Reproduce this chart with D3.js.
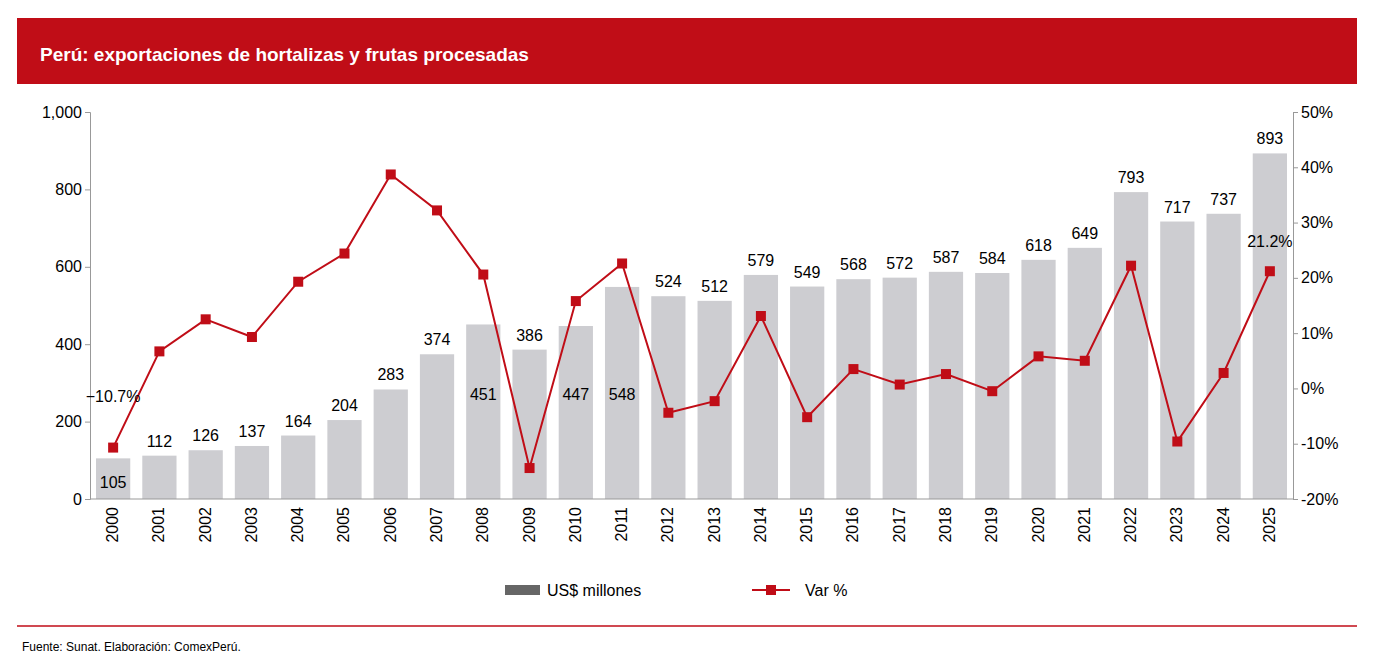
<!DOCTYPE html>
<html><head><meta charset="utf-8">
<script src="https://cdn.jsdelivr.net/npm/d3@7"></script>
<style>body{margin:0;background:#fff;font-family:Arial,"Liberation Sans",sans-serif}</style>
</head><body><svg id="c" width="1387" height="671"></svg>
<script>
const years = ["2000","2001","2002","2003","2004","2005","2006","2007","2008","2009","2010","2011","2012","2013","2014","2015","2016","2017","2018","2019","2020","2021","2022","2023","2024","2025"];
const exportsUSD = [105,112,126,137,164,204,283,374,451,386,447,548,524,512,579,549,568,572,587,584,618,649,793,717,737,893];
const varPct = [-10.7,6.7,12.5,9.3,19.3,24.4,38.7,32.2,20.6,-14.4,15.8,22.6,-4.4,-2.3,13.1,-5.2,3.5,0.7,2.6,-0.5,5.8,5.0,22.2,-9.6,2.8,21.2];
const labelInside = ["2000","2008","2010","2011"];
const leftTicks = [0,200,400,600,800,1000];
const rightTicks = [-20,-10,0,10,20,30,40,50];
const RED="#c00d17";
const svg=d3.select("#c");
svg.append("rect").attr("x",17).attr("y",18).attr("width",1340).attr("height",66).attr("fill",RED);
svg.append("text").attr("x",40).attr("y",61).attr("fill","#fff").attr("font-weight","bold").attr("font-size",19).text("Perú: exportaciones de hortalizas y frutas procesadas");
const x=d3.scaleBand().domain(years).range([90,1293]).paddingInner(0.26).paddingOuter(0.13);
const y=d3.scaleLinear().domain([0,1000]).range([499,112]);
const y2=d3.scaleLinear().domain([-20,50]).range([499,112]);
svg.append("g").selectAll("rect").data(years).join("rect")
 .attr("x",d=>x(d)).attr("width",x.bandwidth()).attr("y",(d,i)=>y(exportsUSD[i])).attr("height",(d,i)=>499-y(exportsUSD[i])).attr("fill","#cdcdd1");
const ga=svg.append("g").attr("transform","translate(90,0)").call(d3.axisLeft(y).tickValues(leftTicks).tickFormat(d3.format(",")).tickSize(5));
const gb=svg.append("g").attr("transform","translate(1293,0)").call(d3.axisRight(y2).tickValues(rightTicks).tickFormat(d=>d+"%").tickSize(5));
const gx=svg.append("g").attr("transform","translate(0,499)").call(d3.axisBottom(x).tickSize(0));
gx.selectAll("text").attr("transform","rotate(-90)").attr("text-anchor","end").attr("dx",-8).attr("dy",5).attr("x",0).attr("y",0);
[ga,gb,gx].forEach(g=>{g.selectAll("text").attr("font-size",16).attr("fill","#000").attr("font-family","Arial,'Liberation Sans',sans-serif");g.selectAll("path,line").attr("stroke","#999");});
gx.select("path").attr("d","M90,0H1293");
// value labels
svg.append("g").selectAll("text").data(years).join("text")
 .attr("x",d=>x(d)+x.bandwidth()/2)
 .attr("y",(d,i)=>labelInside.includes(d)?(d==="2000"?y(exportsUSD[i])+30:400):y(exportsUSD[i])-9)
 .attr("text-anchor","middle").attr("font-size",16).text((d,i)=>exportsUSD[i]);
const line=d3.line().x((d,i)=>x(years[i])+x.bandwidth()/2).y(d=>y2(d));
svg.append("path").datum(varPct).attr("d",line).attr("fill","none").attr("stroke",RED).attr("stroke-width",2);
svg.append("g").selectAll("rect").data(varPct).join("rect")
 .attr("x",(d,i)=>x(years[i])+x.bandwidth()/2-5).attr("y",d=>y2(d)-5).attr("width",10).attr("height",10).attr("fill",RED);
svg.append("text").attr("x",x("2000")+x.bandwidth()/2).attr("y",y2(varPct[0])-46).attr("text-anchor","middle").attr("font-size",16).text(d3.format(".1f")(varPct[0])+"%");
svg.append("text").attr("x",x("2025")+x.bandwidth()/2).attr("y",y2(varPct[25])-24).attr("text-anchor","middle").attr("font-size",16).text(d3.format(".1f")(varPct[25])+"%");
// legend
svg.append("rect").attr("x",505).attr("y",585).attr("width",35).attr("height",10).attr("fill","#666");
svg.append("text").attr("x",547).attr("y",596).attr("font-size",16).text("US$ millones");
svg.append("line").attr("x1",752).attr("x2",790).attr("y1",590).attr("y2",590).attr("stroke",RED).attr("stroke-width",2);
svg.append("rect").attr("x",766).attr("y",585).attr("width",10).attr("height",10).attr("fill",RED);
svg.append("text").attr("x",805).attr("y",596).attr("font-size",16).text("Var %");
svg.append("line").attr("x1",17).attr("x2",1357).attr("y1",626).attr("y2",626).attr("stroke",RED).attr("stroke-width",1.5);
svg.append("text").attr("x",22).attr("y",651).attr("font-size",12).text("Fuente: Sunat. Elaboración: ComexPerú.");
</script></body></html>
